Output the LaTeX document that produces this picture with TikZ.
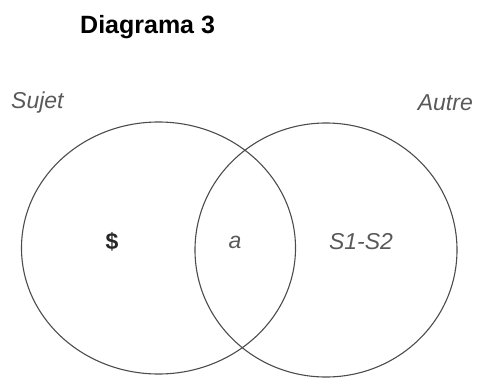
\documentclass[tikz,border=0pt]{standalone}
\usepackage{fontspec}
\setmainfont{Liberation Sans}
\begin{document}
\begin{tikzpicture}[x=1pt,y=-1pt,
  ring/.style={draw=black!70,line width=1.1pt},
  lbl/.style={text=black!65,font=\fontsize{23}{23}\selectfont\itshape,inner sep=0pt}]
\useasboundingbox (0,0) rectangle (478,377);
\draw[ring] (158.5,248) ellipse [x radius=137, y radius=126];
\draw[ring] (326,250) ellipse [x radius=131, y radius=127];
\node[font=\fontsize{25}{25}\selectfont\bfseries,inner sep=0pt,anchor=west] (title) at (80,27) {Diagrama 3};
\node[lbl,anchor=west] (sujet) at (11,103) {Sujet};
\node[lbl,anchor=east] (autre) at (473,103) {Autre};
\node[lbl,text=black!85,font=\fontsize{23}{23}\selectfont\bfseries] (s) at (112,242) {\$};
\node[lbl] (a) at (235,242) {a};
\node[lbl] (s1s2) at (361,242) {S1-S2};
\end{tikzpicture}
\end{document}
